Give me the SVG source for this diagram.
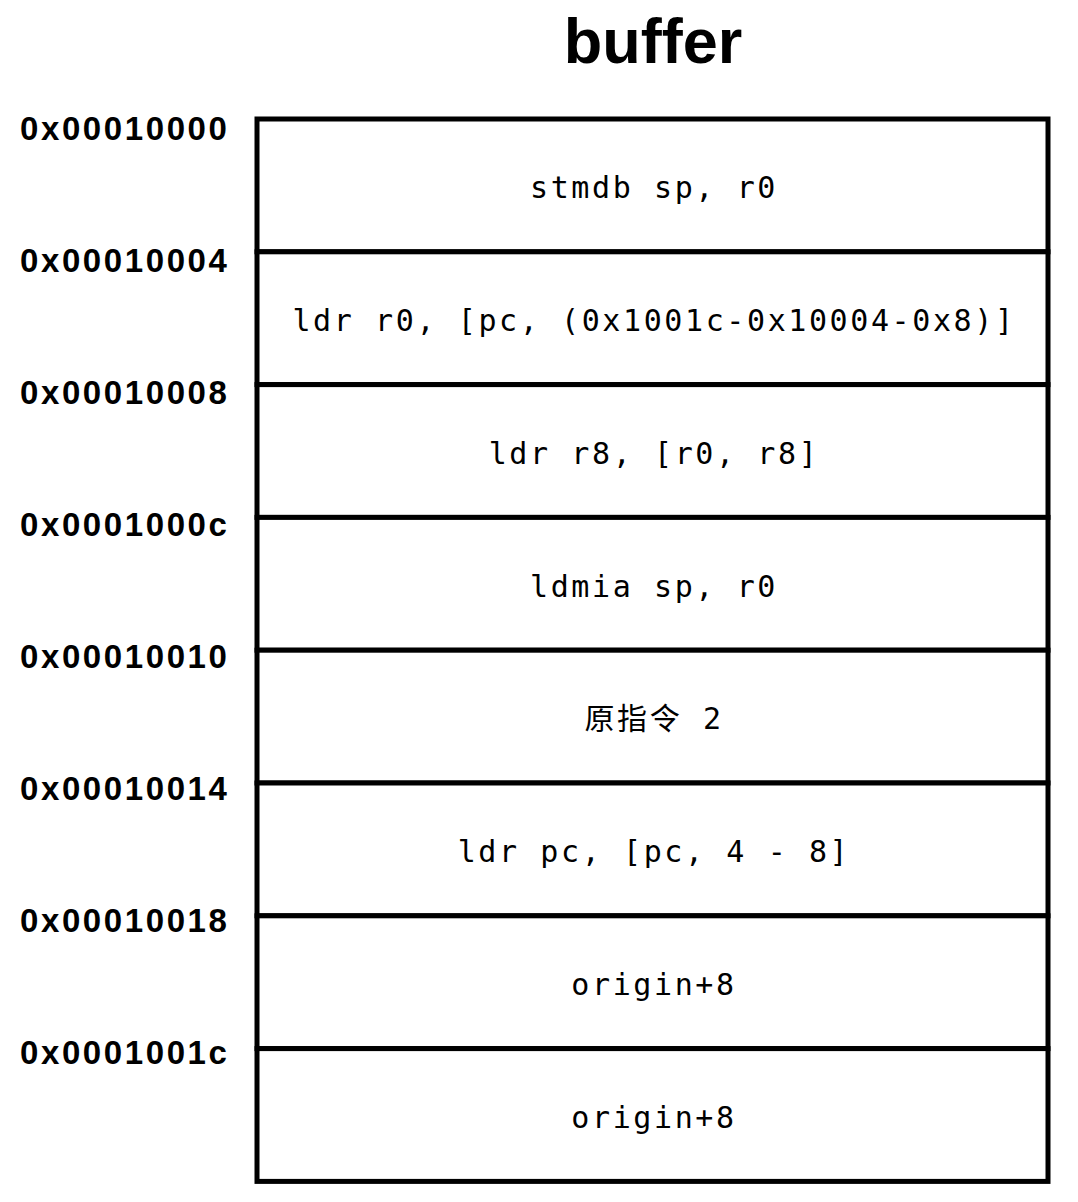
<svg xmlns="http://www.w3.org/2000/svg" width="1078" height="1202" viewBox="0 0 1078 1202">
<style>
.title{font-family:"Liberation Sans",Arial,sans-serif;font-weight:bold;font-size:63px;fill:#000}
.addr{font-family:"Liberation Sans",Arial,sans-serif;font-weight:bold;font-size:33px;letter-spacing:2.6px;fill:#000}
.cell{fill:#fff;stroke:#000;stroke-width:5}
.code{font-family:"DejaVu Sans Mono","Noto Sans CJK SC",monospace;font-size:30px;letter-spacing:2.6px;fill:#000;text-anchor:middle}
</style>
<rect width="1078" height="1202" fill="#fff"/>
<text class="title" x="653" y="63" text-anchor="middle">buffer</text>
<g id="cell0"><rect class="cell" x="257" y="119" width="791" height="132.8"/><text class="code" x="654" y="198">stmdb sp, r0</text><text class="addr" x="20" y="140">0x00010000</text></g>
<g id="cell1"><rect class="cell" x="257" y="251.8" width="791" height="132.8"/><text class="code" x="654" y="331">ldr r0, [pc, (0x1001c-0x10004-0x8)]</text><text class="addr" x="20" y="272">0x00010004</text></g>
<g id="cell2"><rect class="cell" x="257" y="384.6" width="791" height="132.8"/><text class="code" x="654" y="464">ldr r8, [r0, r8]</text><text class="addr" x="20" y="404">0x00010008</text></g>
<g id="cell3"><rect class="cell" x="257" y="517.4" width="791" height="132.8"/><text class="code" x="654" y="597">ldmia sp, r0</text><text class="addr" x="20" y="536">0x0001000c</text></g>
<g id="cell4"><rect class="cell" x="257" y="650.2" width="791" height="132.8"/><text class="code" x="654" y="729">原指令 2</text><text class="addr" x="20" y="668">0x00010010</text></g>
<g id="cell5"><rect class="cell" x="257" y="783" width="791" height="132.8"/><text class="code" x="654" y="862">ldr pc, [pc, 4 - 8]</text><text class="addr" x="20" y="800">0x00010014</text></g>
<g id="cell6"><rect class="cell" x="257" y="915.8" width="791" height="132.8"/><text class="code" x="654" y="995">origin+8</text><text class="addr" x="20" y="932">0x00010018</text></g>
<g id="cell7"><rect class="cell" x="257" y="1048.6" width="791" height="132.8"/><text class="code" x="654" y="1128">origin+8</text><text class="addr" x="20" y="1064">0x0001001c</text></g>
<g id="connectors"></g>
</svg>
